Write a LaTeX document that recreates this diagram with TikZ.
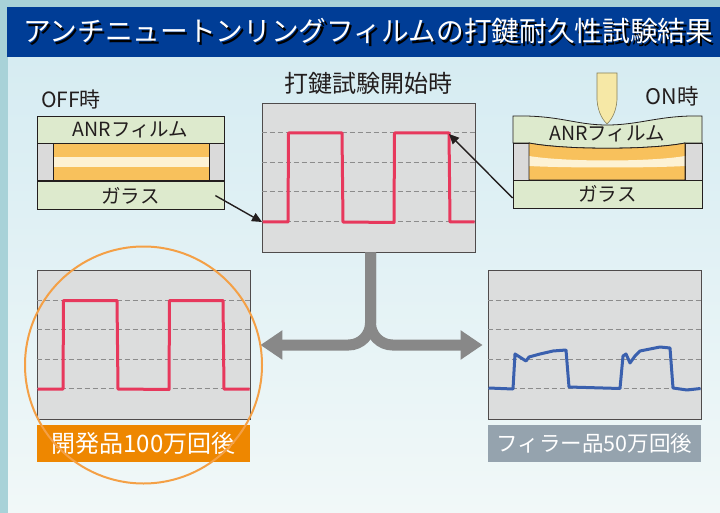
\documentclass[tikz,border=0pt]{standalone}
\usepackage{fontspec}
\setmainfont{Noto Sans CJK JP}
\usetikzlibrary{arrows.meta,positioning}

\definecolor{frameteal}{RGB}{168,210,216}
\definecolor{panetop}{RGB}{214,236,242}
\definecolor{panebot}{RGB}{241,248,248}
\definecolor{titleblue}{RGB}{0,61,150}
\definecolor{filmgreen}{RGB}{221,234,205}
\definecolor{amber}{RGB}{248,193,92}
\definecolor{cream}{RGB}{253,242,212}
\definecolor{spacer}{RGB}{218,218,218}
\definecolor{scopegray}{RGB}{220,221,221}
\definecolor{guidegray}{RGB}{140,140,140}
\definecolor{pulsered}{RGB}{231,56,92}
\definecolor{pulseblue}{RGB}{58,96,174}
\definecolor{branchgray}{RGB}{136,136,136}
\definecolor{tagorange}{RGB}{238,135,0}
\definecolor{taggray}{RGB}{149,163,174}
\definecolor{ringorange}{RGB}{244,160,70}
\definecolor{probe}{RGB}{246,232,166}
\definecolor{ink}{RGB}{35,30,30}

\newcommand{\fsz}[1]{\fontsize{#1}{#1}\selectfont}

\begin{document}
\begin{tikzpicture}[x=1pt, y=-1pt,
    layer/.style = {draw=ink, line width=0.8pt, minimum width=187pt, inner sep=0pt, text=ink, font=\fsz{19.5}},
    screen/.style = {draw=ink!80, fill=scopegray, line width=0.8pt, minimum width=213pt, minimum height=149pt, inner sep=0pt},
    guide/.style = {draw=guidegray, line width=1pt, dash pattern=on 5pt off 3pt},
    wave/.style = {line width=3pt, line join=round},
    tag/.style = {minimum width=213pt, minimum height=37pt, inner sep=0pt, text=white, font=\fsz{24}},
    pointer/.style = {draw=ink, line width=1.4pt, -{Triangle[length=10pt,width=9pt]}},
    branch/.style = {draw=branchgray, line width=11pt, rounded corners=22pt, -{Triangle[length=22pt,width=28pt]}}]
    \useasboundingbox (0,0) rectangle (720,513);

    % background and title bar
    \fill[frameteal] (0,0) rectangle (720,513);
    \shade[top color=panetop, bottom color=panebot] (8,57) rectangle (720,513);
    \fill[titleblue] (7,7) rectangle (720,57);
    \node[anchor=west, text=black, font=\fsz{27.7}] (titleshadow) at (21.8,33.8) {アンチニュートンリングフィルムの打鍵耐久性試験結果};
    \node[anchor=west, text=white, font=\fsz{27.7}] (title) at (19.5,31.5) {アンチニュートンリングフィルムの打鍵耐久性試験結果};

    % OFF stack
    \node[text=ink, font=\fsz{21}] (offlabel) at (71,100) {OFF時};
    \node[layer, fill=filmgreen, minimum height=27pt] (offfilm) at (130.5,129.5) {ANRフィルム};
    \node[layer, fill=spacer, minimum height=37pt, below=0pt of offfilm] (offgap) {};
    \node[layer, fill=filmgreen, minimum height=28pt, below=0pt of offgap] (offglass) {ガラス};
    \fill[amber] (53,143) rectangle (209,180);
    \fill[cream] (53,157) rectangle (209,167);
    \draw[ink, line width=0.8pt] (53,143) rectangle (209,180);

    % ON stack, film pressed down
    \node[text=ink, font=\fsz{21.5}] (onlabel) at (672,96) {ON時};
    \filldraw[fill=filmgreen, draw=ink, line width=0.8pt] (513,116) .. controls (560,115) and (575,125) .. (607,125)
        .. controls (640,125) and (660,115) .. (702,116) -- (702,143) -- (685,143)
        .. controls (650,150) and (565,150) .. (529,143) -- (513,143) -- cycle;
    \filldraw[fill=spacer, draw=ink, line width=0.8pt] (513,143) rectangle (529,180);
    \filldraw[fill=spacer, draw=ink, line width=0.8pt] (685,143) rectangle (702,180);
    \fill[amber] (529,143) .. controls (565,150) and (650,150) .. (685,143) -- (685,180) -- (529,180) -- cycle;
    \fill[cream] (529,156) .. controls (565,162) and (650,162) .. (685,156) -- (685,166)
        .. controls (650,168) and (565,168) .. (529,166) -- cycle;
    \draw[ink, line width=0.8pt] (529,143) .. controls (565,150) and (650,150) .. (685,143) -- (685,180) -- (529,180) -- cycle;
    \node[text=ink, font=\fsz{19.5}] (onfilm) at (607,134) {ANRフィルム};
    \node[layer, fill=filmgreen, minimum width=189pt, minimum height=28pt] (onglass) at (607.5,194) {ガラス};
    \filldraw[fill=probe, draw=probe!55!black, line width=0.6pt] (597,73) -- (597,100)
        .. controls (598,114) and (604,121) .. (607,124) .. controls (610,121) and (616,114) .. (617,100) -- (617,73) -- cycle;

    % scope screens
    \node[text=ink, font=\fsz{24}] (starthead) at (368,83) {打鍵試験開始時};
    \node[screen] (start) at (368.5,177.5) {};
    \node[screen] (dev) at (143.5,345) {};
    \node[screen] (filler) at (594.5,345) {};
    \foreach \s in {start,dev,filler}
        \foreach \d in {30,59.5,89,118.5}
            \draw[guide] ([yshift=-\d pt]\s.north west) -- ([yshift=-\d pt]\s.north east);

    \draw[wave, pulsered] (262.5,222) -- (288,222) -- (288.5,133) -- (342,133) -- (343,222) -- (394,222.5)
        -- (394.5,133) -- (449,133) -- (450,222) -- (474.5,222);
    \draw[wave, pulsered] (37.5,389) -- (63,389) -- (63.5,300.5) -- (117,300.5) -- (118,389) -- (169,389.5)
        -- (169.5,300.5) -- (223,300.5) -- (224,389) -- (249.5,389);
    \draw[wave, pulseblue] (488.5,388) -- (513,389) -- (515,354) -- (526,361) -- (529,357) -- (540,354)
        -- (553,351) -- (566,350) -- (569,387) -- (620,388.5) -- (623,356) -- (626,354) -- (630,363)
        -- (635,356) -- (640,351) -- (650,349) -- (660,347) -- (670,348) -- (673,388) -- (687,390) -- (700.5,388.5);

    % arrows into the start screen
    \coordinate (startlow) at (262,222);
    \coordinate (startpeak) at (449,134);
    \draw[pointer] ([xshift=-9pt]offglass.east) -- (startlow);
    \draw[pointer] ([yshift=-4pt]onglass.west) -- (startpeak);

    % split to the two results
    \draw[branch] ([xshift=2pt]start.south) |- ([xshift=10pt]dev.east);
    \draw[branch] ([xshift=2pt]start.south) |- ([xshift=-5pt]filler.west);

    \node[tag, fill=tagorange, below=5pt of dev] (devtag) {開発品100万回後};
    \node[tag, fill=taggray, font=\fsz{21.5}, below=5pt of filler] (fillertag) {フィラー品50万回後};

    \node[circle, draw=ringorange, line width=2pt, minimum size=237pt, inner sep=0pt] (ring) at (143.5,365) {};
\end{tikzpicture}
\end{document}
